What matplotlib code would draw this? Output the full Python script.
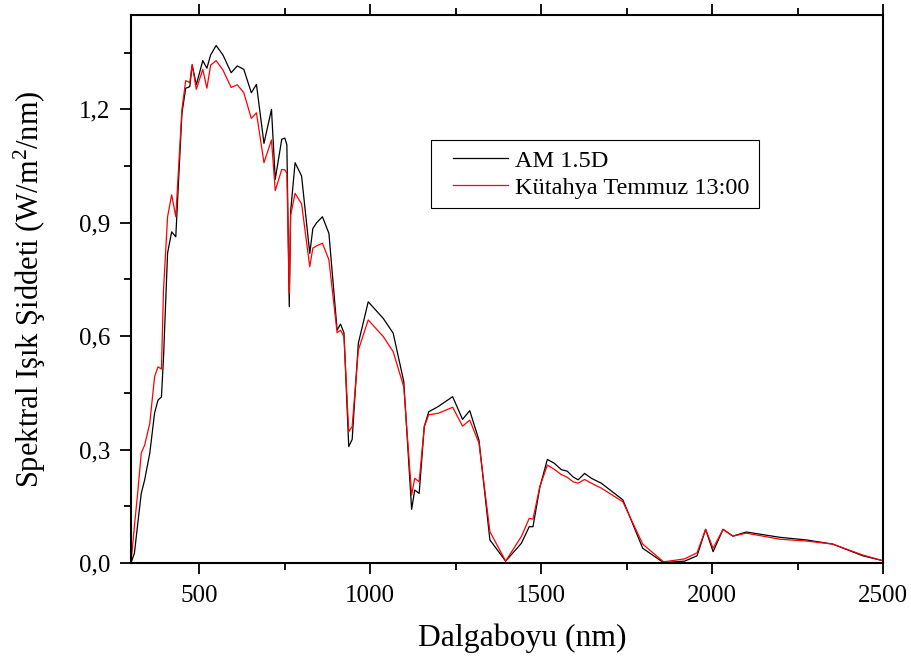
import matplotlib
matplotlib.use("Agg")
import matplotlib.pyplot as plt
from matplotlib.ticker import MultipleLocator, FuncFormatter
from matplotlib.legend_handler import HandlerLine2D

plt.rcParams['font.family'] = ['Liberation Serif', 'DejaVu Serif']
plt.rcParams['mathtext.fontset'] = 'custom'
plt.rcParams['mathtext.rm'] = 'Liberation Serif'
plt.rcParams['mathtext.it'] = 'Liberation Serif:italic'

wavelength = [300, 310, 320, 330, 340, 355, 369, 379, 389, 395, 407, 419, 431, 449, 460,
              472, 479, 491, 510, 522, 533, 549, 569, 593, 611, 630, 652, 667, 689, 711,
              722, 741, 750, 756, 763, 767, 780, 799, 823, 832, 843, 860, 879, 903, 913,
              923, 937, 947, 965, 994, 1038, 1067, 1098, 1121, 1130, 1143, 1158, 1171,
              1199, 1241, 1270, 1291, 1318, 1350, 1396, 1442, 1465, 1476, 1496, 1518,
              1538, 1559, 1576, 1593, 1608, 1627, 1647, 1676, 1739, 1797, 1858, 1920,
              1956, 1981, 2003, 2032, 2061, 2100, 2198, 2276, 2353, 2441, 2500]

am15d = [0.0, 0.026, 0.106, 0.184, 0.22, 0.291, 0.397, 0.431, 0.439, 0.54, 0.82, 0.876,
         0.863, 1.19, 1.256, 1.26, 1.317, 1.265, 1.329, 1.309, 1.344, 1.369, 1.344, 1.297,
         1.315, 1.306, 1.244, 1.266, 1.11, 1.2, 1.015, 1.121, 1.124, 1.106, 0.678, 0.93,
         1.059, 1.024, 0.819, 0.885, 0.9, 0.916, 0.872, 0.616, 0.632, 0.609, 0.308, 0.327,
         0.581, 0.691, 0.647, 0.608, 0.48, 0.142, 0.193, 0.184, 0.361, 0.4, 0.414, 0.44,
         0.38, 0.403, 0.325, 0.061, 0.005, 0.052, 0.096, 0.096, 0.2, 0.274, 0.264, 0.247,
         0.243, 0.228, 0.22, 0.237, 0.224, 0.211, 0.167, 0.039, 0.001, 0.005, 0.019, 0.089,
         0.03, 0.089, 0.071, 0.082, 0.068, 0.061, 0.05, 0.019, 0.006]

kutahya = [0.0, 0.098, 0.19, 0.291, 0.312, 0.37, 0.493, 0.519, 0.513, 0.72, 0.916, 0.974,
           0.916, 1.2, 1.276, 1.271, 1.319, 1.253, 1.306, 1.256, 1.317, 1.329, 1.304, 1.258,
           1.265, 1.244, 1.176, 1.191, 1.059, 1.119, 0.985, 1.041, 1.04, 1.031, 0.713, 0.92,
           0.978, 0.95, 0.784, 0.833, 0.839, 0.846, 0.802, 0.609, 0.616, 0.599, 0.347, 0.361,
           0.563, 0.643, 0.599, 0.559, 0.466, 0.18, 0.224, 0.215, 0.361, 0.392, 0.396, 0.412,
           0.362, 0.378, 0.317, 0.083, 0.005, 0.07, 0.118, 0.116, 0.202, 0.259, 0.248, 0.234,
           0.227, 0.215, 0.211, 0.221, 0.211, 0.198, 0.162, 0.05, 0.003, 0.011, 0.027, 0.089,
           0.039, 0.089, 0.071, 0.079, 0.063, 0.058, 0.05, 0.021, 0.006]

series_labels = ["AM 1.5D", "Kütahya Temmuz 13:00"]
x_label = "Dalgaboyu (nm)"
y_label = "Spektral Işık Şiddeti (W/m$^2$/nm)"


class InsetLineHandler(HandlerLine2D):
    """Legend line that starts a little to the right of the handle box."""
    def get_xdata(self, legend, xdescent, ydescent, width, height, fontsize):
        shift = 0.5 * fontsize
        return [-xdescent + shift, -xdescent + width], [-xdescent + 0.5 * width]


fig = plt.figure(figsize=(9.12, 6.58), dpi=100)
ax = fig.add_axes([131/912, 1 - 563/658, (883-131)/912, (563-14.5)/658])

ax.plot(wavelength, am15d, color='black', lw=0.9, label=series_labels[0])
ax.plot(wavelength, kutahya, color='red', lw=0.9, label=series_labels[1])

ax.set_xlim(300, 2500)
ax.set_ylim(0, 1.451)
ax.xaxis.set_major_locator(MultipleLocator(500))
ax.xaxis.set_minor_locator(MultipleLocator(250))
ax.yaxis.set_major_locator(MultipleLocator(0.3))
ax.yaxis.set_minor_locator(MultipleLocator(0.15))
ax.yaxis.set_major_formatter(FuncFormatter(lambda v, p: f"{v:.1f}".replace('.', ',')))

for s in ax.spines.values():
    s.set_linewidth(1.5)
ax.tick_params(which='both', direction='out', top=True, right=False, labelsize=18, width=1.3)
ax.tick_params(which='major', length=8)
ax.tick_params(which='minor', length=5)
ax.tick_params(axis='x', pad=8)
ax.tick_params(axis='y', pad=7)

ax.set_xlabel(x_label, fontsize=22.8, labelpad=12)
ax.xaxis.label.set_x((522 - 131) / 752)
ax.set_ylabel(y_label, fontsize=22, labelpad=22)

handler = InsetLineHandler()
leg = ax.legend(loc='upper left', bbox_to_anchor=((431-131)/752, (563-140)/548.5),
                fontsize=17.5, frameon=True, fancybox=False, framealpha=1,
                handlelength=2.76, borderpad=0.4, labelspacing=0.2, handletextpad=0.3,
                borderaxespad=0,
                handler_map={ax.lines[0]: handler, ax.lines[1]: handler})
leg.get_frame().set_edgecolor('black')
leg.get_frame().set_linewidth(0.8)

fig.savefig("out.png", dpi=100)
